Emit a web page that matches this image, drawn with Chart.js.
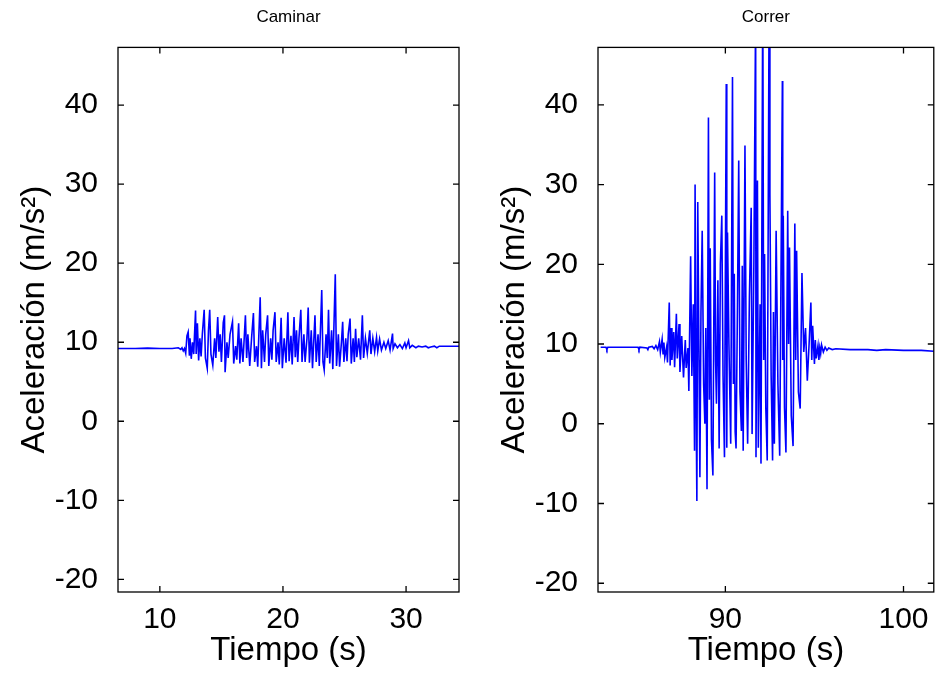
<!DOCTYPE html>
<html>
<head>
<meta charset="utf-8">
<script src="https://cdn.jsdelivr.net/npm/chart.js@4"></script>
<style>
  body { margin: 0; background: #fff; }
  #wrap { position: relative; width: 939px; height: 674px; }
  canvas { position: absolute; top: 0; }
  #walkChart { left: 0; }
  #runChart { left: 469px; }
</style>
</head>
<body>
<div id="wrap">
  <canvas id="walkChart" width="469" height="674"></canvas>
  <canvas id="runChart" width="470" height="674"></canvas>
</div>
<script>
// [tiempo (s), aceleración (m/s2)]
const walkSamples = [
  [6.6,9.2],[8,9.2],[9,9.25],[10,9.2],[11,9.2],[11.5,9.3],[11.7,9.1],[11.8,9.3],[11.9,8.9],[12.0,9.2],
  [12.1,8.6],[12.2,10.8],[12.3,11.3],[12.4,8.3],[12.45,10.5],[12.55,7.9],[12.65,10.0],[12.75,8.5],[12.9,14.0],[12.95,8.5],
  [13.05,12.4],[13.15,7.7],[13.25,10.5],[13.35,8.2],[13.45,11.0],[13.6,14.1],[13.7,8.0],[13.85,6.7],[13.95,11.5],[14.05,14.1],
  [14.15,8.5],[14.3,7.1],[14.45,10.5],[14.55,8.0],[14.7,13.2],[14.8,8.8],[14.9,11.0],[15.0,7.5],[15.15,12.5],[15.25,13.4],
  [15.3,6.2],[15.45,10.0],[15.55,8.0],[15.7,11.0],[15.9,12.6],[16.0,7.3],[16.15,9.5],[16.25,7.8],[16.4,12.4],[16.5,7.3],
  [16.6,10.5],[16.75,7.5],[16.95,13.4],[17.05,8.0],[17.15,11.0],[17.3,7.0],[17.45,10.5],[17.6,13.7],[17.7,7.5],[17.85,9.5],
  [17.95,6.9],[18.15,15.7],[18.25,6.7],[18.35,11.5],[18.5,7.5],[18.6,11.0],[18.75,13.4],[18.85,7.0],[19.0,10.5],[19.1,7.8],
  [19.2,11.5],[19.35,13.8],[19.45,7.5],[19.6,10.0],[19.7,7.2],[19.85,13.1],[19.95,6.7],[20.1,10.5],[20.25,7.4],[20.4,13.8],
  [20.5,7.6],[20.65,10.8],[20.75,7.2],[20.9,13.2],[21.0,8.1],[21.1,11.5],[21.2,7.5],[21.3,10.5],[21.45,14.1],[21.55,7.5],
  [21.7,11.0],[21.8,7.5],[21.95,10.5],[22.05,14.4],[22.15,7.4],[22.3,11.5],[22.4,6.7],[22.6,13.4],[22.7,7.5],[22.85,11.0],
  [22.95,7.0],[23.15,16.6],[23.25,7.5],[23.35,6.5],[23.5,11.0],[23.6,8.0],[23.7,14.1],[23.8,7.3],[23.95,11.5],[24.05,6.6],
  [24.25,18.6],[24.35,7.0],[24.5,11.0],[24.6,6.9],[24.75,10.0],[24.85,12.6],[24.95,7.5],[25.1,10.5],[25.2,7.6],[25.3,11.0],
  [25.45,13.0],[25.55,7.3],[25.7,10.5],[25.8,7.5],[25.9,11.7],[26.0,8.1],[26.15,10.5],[26.3,7.8],[26.45,13.4],[26.55,8.0],
  [26.7,10.5],[26.85,8.6],[27.05,11.5],[27.15,8.5],[27.3,10.5],[27.45,8.8],[27.6,10.6],[27.7,8.9],[27.85,10.4],[28.0,9.0],
  [28.2,10.0],[28.35,9.2],[28.55,10.2],[28.7,9.0],[28.9,11.1],[28.95,9.2],[29.1,9.8],[29.3,9.3],[29.5,9.7],[29.7,9.2],
  [29.9,9.9],[30.0,9.3],[30.2,10.2],[30.3,9.3],[30.5,9.6],[30.8,9.3],[31.0,9.5],[31.3,9.4],[31.6,9.5],[31.8,9.3],
  [32.0,9.4],[32.3,9.5],[32.5,9.3],[32.7,9.5],[33.5,9.5],[34.3,9.5]
];

const runSamples = [
  [83.0,9.6],[83.3,9.6],[83.35,9.3],[83.4,9.6],[84.5,9.6],[85.1,9.6],[85.15,9.3],[85.2,9.6],[85.6,9.5],[85.65,9.3],
  [85.7,9.6],[85.9,9.7],[86.0,9.4],[86.1,9.8],[86.2,9.3],[86.3,10.3],[86.35,9.0],[86.45,10.6],[86.5,8.8],[86.55,10.2],
  [86.6,8.3],[86.7,9.6],[86.75,7.7],[86.85,15.2],[86.9,7.3],[86.95,12.0],[87.0,8.0],[87.1,11.5],[87.15,7.1],[87.25,13.8],
  [87.3,8.2],[87.4,12.5],[87.45,6.5],[87.55,11.0],[87.65,5.8],[87.75,10.5],[87.8,7.0],[87.9,9.5],[87.95,4.1],[88.05,21],
  [88.12,6],[88.2,15],[88.27,-3.4],[88.3,30],[88.36,2],[88.4,-9.7],[88.45,27.8],[88.52,8],[88.57,-6.7],[88.63,14],
  [88.7,24.2],[88.78,5],[88.85,0],[88.9,12],[88.97,-8.2],[89.05,38.4],[89.1,3],[89.15,22],[89.22,-2],[89.3,-6.5],
  [89.4,31.5],[89.45,8],[89.5,2.5],[89.58,18],[89.65,-3.1],[89.72,20],[89.8,26.1],[89.87,6],[89.95,-4.2],[90.05,42.6],
  [90.08,-3],[90.12,24],[90.2,10],[90.3,-2.5],[90.4,43.5],[90.45,5],[90.5,18.8],[90.55,-1],[90.6,-3.1],[90.68,15],
  [90.75,33],[90.82,4],[90.9,-0.9],[90.95,19.8],[91.0,-3.4],[91.1,34.9],[91.17,8],[91.25,-2.5],[91.35,16],[91.45,27.1],
  [91.5,-1.3],[91.6,20],[91.7,52],[91.72,-4.2],[91.8,30.5],[91.85,-3],[91.95,15],[92.0,-5.0],[92.1,55],[92.15,8],
  [92.2,21.3],[92.27,2],[92.35,-4.6],[92.45,50],[92.5,28.8],[92.57,6],[92.65,-4.6],[92.7,14],[92.75,-2.5],[92.85,24.2],
  [92.95,5],[93.05,-4.0],[93.2,43],[93.22,8],[93.25,26.1],[93.32,2],[93.4,-3.6],[93.5,26.7],[93.55,10],[93.6,22.1],
  [93.7,1],[93.8,-2.8],[93.9,25.1],[93.95,8],[94.0,21.7],[94.1,4],[94.2,1.9],[94.3,18.9],[94.4,9],[94.5,12],
  [94.6,5.4],[94.7,10],[94.8,15.2],[94.85,8],[94.9,12.3],[95.0,7.5],[95.05,10.5],[95.1,8.2],[95.2,9.8],[95.25,8.0],
  [95.3,9.5],[95.35,8.8],[95.4,9.9],[95.5,9.0],[95.6,9.6],[95.7,9.2],[95.8,9.5],[96.0,9.3],[96.2,9.4],[97,9.3],
  [98,9.3],[98.5,9.2],[99,9.3],[100,9.2],[101,9.2],[101.7,9.1]
];

const walkXTicks = [10, 20, 30];
const runXTicks = [90, 100];
const yTicks = [-20, -10, 0, 10, 20, 30, 40];

Chart.defaults.font.family = "'Liberation Sans', Arial, sans-serif";
Chart.defaults.color = '#000';

// MATLAB style box with ticks pointing inwards on every side
const boxTicks = {
  id: 'boxTicks',
  afterDraw(chart) {
    const {ctx, chartArea: a, scales: {x, y}} = chart;
    ctx.save();
    ctx.strokeStyle = '#000';
    ctx.lineWidth = 1.3;
    ctx.strokeRect(a.left, a.top, a.right - a.left, a.bottom - a.top);
    ctx.beginPath();
    x.ticks.forEach(t => {
      const px = x.getPixelForValue(t.value);
      ctx.moveTo(px, a.bottom); ctx.lineTo(px, a.bottom - 6);
      ctx.moveTo(px, a.top); ctx.lineTo(px, a.top + 6);
    });
    y.ticks.forEach(t => {
      const py = y.getPixelForValue(t.value);
      ctx.moveTo(a.left, py); ctx.lineTo(a.left + 6, py);
      ctx.moveTo(a.right, py); ctx.lineTo(a.right - 6, py);
    });
    ctx.stroke();
    ctx.restore();
  }
};

function buildPanel(canvasId, title, samples, xTicks, xMin, xMax, yMin, yMax, yAxisWidth, yTitlePad, rightPad) {
  const ctx = document.getElementById(canvasId).getContext('2d');
  return new Chart(ctx, {
    type: 'line',
    data: {
      datasets: [{
        data: samples.map(p => ({x: p[0], y: p[1]})),
        borderColor: '#0000ff',
        borderWidth: 1.6,
        pointRadius: 0,
        tension: 0,
        fill: false
      }]
    },
    options: {
      responsive: false,
      animation: false,
      devicePixelRatio: 1,
      layout: { padding: { left: 0, right: rightPad, top: 0, bottom: 0 } },
      plugins: {
        legend: { display: false },
        tooltip: { enabled: false },
        title: {
          display: true,
          text: title,
          fullSize: false,
          color: '#000',
          font: { size: 17, weight: 'normal' },
          padding: { top: 7, bottom: 20 }
        }
      },
      scales: {
        x: {
          type: 'linear',
          min: xMin,
          max: xMax,
          afterBuildTicks: s => { s.ticks = xTicks.map(v => ({value: v})); },
          afterFit: s => { s.height = 82; },
          grid: { display: false, drawTicks: false },
          border: { display: false },
          ticks: { font: { size: 30 }, padding: 10, maxRotation: 0 },
          title: { display: true, text: 'Tiempo (s)', font: { size: 33 }, padding: { top: 0, bottom: 3 } }
        },
        y: {
          type: 'linear',
          min: yMin,
          max: yMax,
          afterBuildTicks: s => { s.ticks = yTicks.map(v => ({value: v})); },
          afterFit: s => { s.width = yAxisWidth; },
          grid: { display: false, drawTicks: false },
          border: { display: false },
          ticks: { font: { size: 30 }, padding: 20 },
          title: { display: true, text: 'Aceleración (m/s²)', font: { size: 33 }, padding: { top: yTitlePad, bottom: 0 } }
        }
      }
    },
    plugins: [boxTicks]
  });
}

buildPanel('walkChart', 'Caminar', walkSamples, walkXTicks, 6.6, 34.3, -21.6, 47.3, 118, 15, 10);
buildPanel('runChart', 'Correr', runSamples, runXTicks, 82.85, 101.7, -21.1, 47.2, 129, 26, 3);
</script>
</body>
</html>
